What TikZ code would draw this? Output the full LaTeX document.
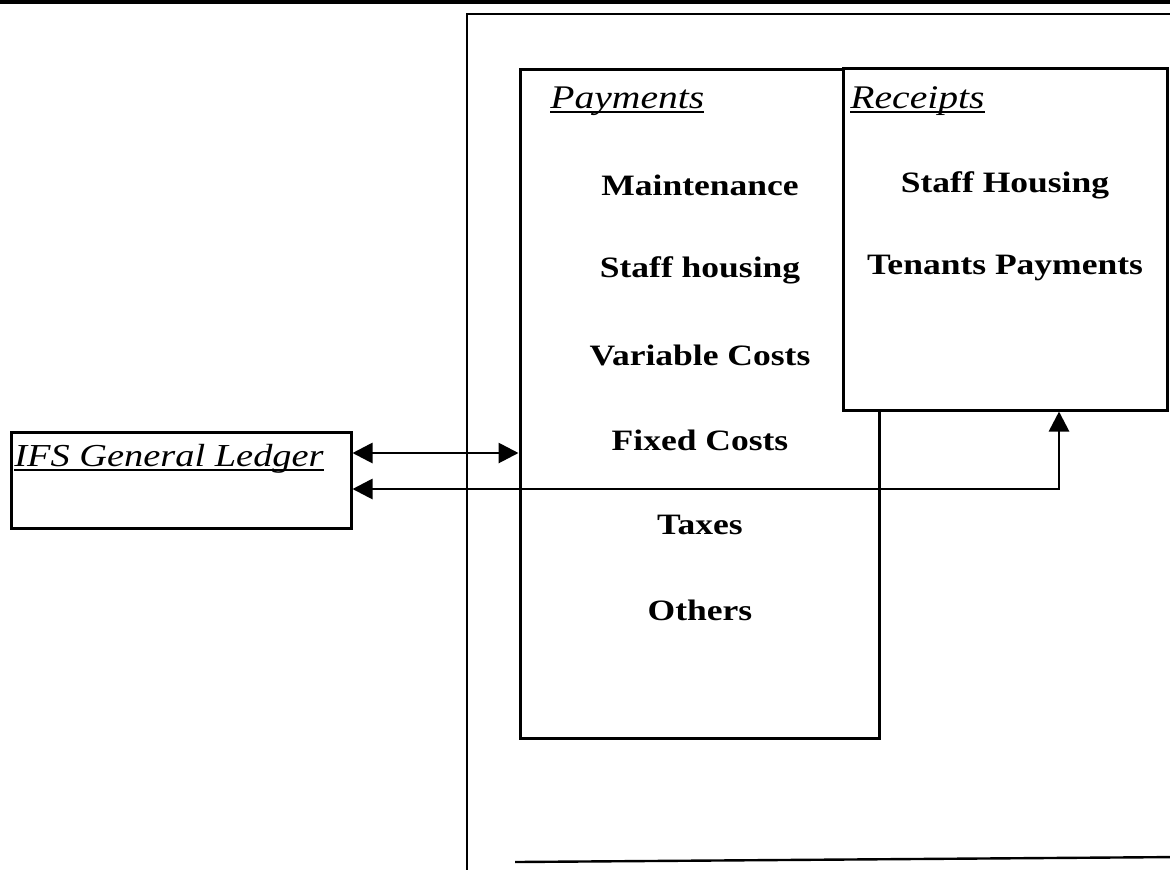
\documentclass[tikz,border=0pt]{standalone}
\usepackage{fontspec}
\setmainfont{Liberation Serif}[FakeStretch=1.2]
\usepackage{xcolor}
\usetikzlibrary{arrows.meta}
\newsavebox\ulinebox
\newcommand\ulined[1]{\sbox\ulinebox{#1}\rlap{\rule[-2.5pt]{\wd\ulinebox}{0.9pt}}\usebox\ulinebox}

\tikzset{
  frame/.style={draw, line width=1.5pt, inner sep=0pt},
  item/.style={font=\fontsize{14.8}{17}\selectfont\bfseries},
  heading/.style={font=\fontsize{16.5}{19}\selectfont\itshape, anchor=base west, inner sep=0pt},
  link/.style={line width=1.4pt, {Triangle[length=10pt,width=10pt]}-{Triangle[length=10pt,width=10pt]}}
}

\begin{document}
\begin{tikzpicture}[x=0.5pt, y=-0.5pt]
\clip (0,0) rectangle (1170,869);
\fill[white] (0,0) rectangle (1170,869);
\draw[line width=2pt] (0,2) -- (1170,2);
\draw[line width=1pt] (1180,14) -- (467,14) -- (467,880);
\draw[line width=1.2pt] (515,862) -- (1180,857);
\node[frame, minimum width=179.5pt, minimum height=334.5pt] (pay) at (699.5,403.5) {};
\node[frame, fill=white, minimum width=162pt, minimum height=171pt] (rec) at (1005,239) {};
\node[frame, minimum width=170pt, minimum height=48pt] (gl) at (181,480) {};
\node[heading] (pay-h) at (550,108) {\ulined{Payments}};
\node[heading] (rec-h) at (850,108) {\ulined{Receipts}};
\node[heading, font=\fontsize{16}{19}\selectfont\itshape] (gl-h) at (14,466) {\ulined{IFS General Ledger}};
\foreach \txt [count=\i] in {Maintenance, Staff housing, Variable Costs, Fixed Costs, Taxes, Others}
  \node[item] (p\i) at (700,{100+85*\i}) {\txt};
\node[item] (r1) at (1005,185) {Staff Housing};
\node[item] (r2) at (1005,268) {Tenants Payments};
\draw[link] (gl.east |- 0,453) -- (pay.west |- 0,453);
\coordinate (bend) at (1059,489);
\draw[link] (gl.east |- bend) -- (bend) -- (rec.south -| bend);
\end{tikzpicture}
\end{document}
